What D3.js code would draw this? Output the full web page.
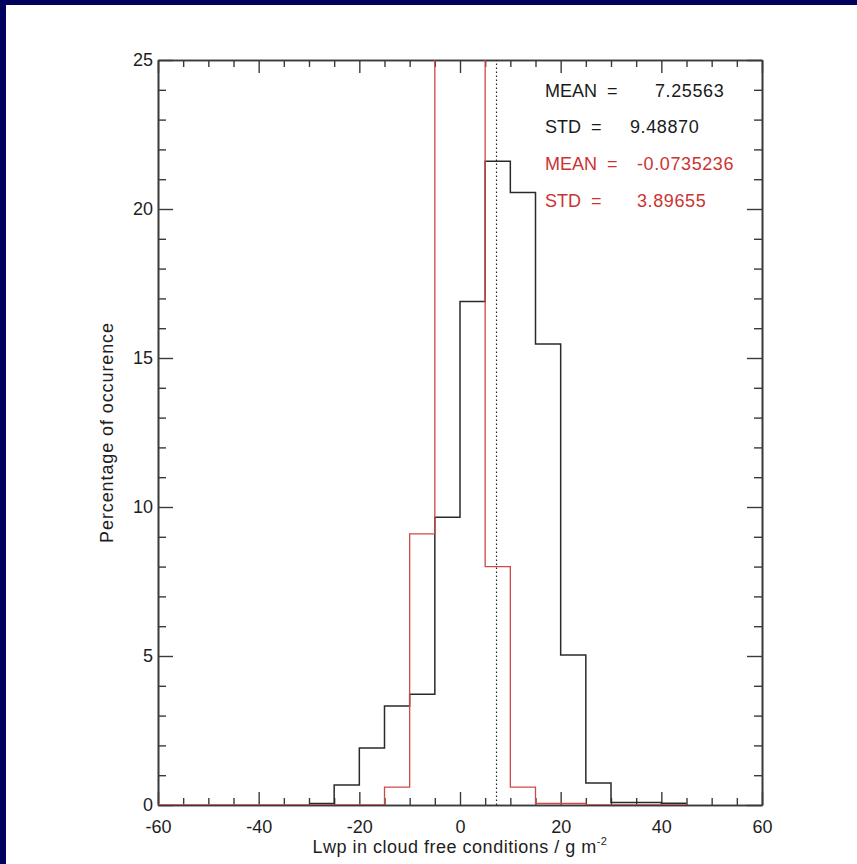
<!DOCTYPE html>
<html>
<head>
<meta charset="utf-8">
<script src="https://cdn.jsdelivr.net/npm/d3@7"></script>
<style>
  html, body { margin: 0; padding: 0; background: #ffffff; }
  svg { display: block; }
  text { font-family: "Liberation Sans", Arial, Helvetica, sans-serif; }
</style>
</head>
<body>
<svg id="chart" width="857" height="864"></svg>
<script>
// Histogram bins: left edges, 5 g/m^2 wide
const binStart = -60;
const binWidth = 5;
// Percentage of occurrence per bin (-60 ... 55)
const allSky = [0, 0, 0, 0, 0, 0, 0.05, 0.67, 1.91, 3.32, 3.72, 9.66,
                16.9, 21.6, 20.55, 15.47, 5.03, 0.74, 0.08, 0.08, 0.06, 0, 0, 0];
const clearSky = [0, 0, 0, 0, 0, 0, 0, 0, 0, 0.6, 9.1, 41.0,
                  40.6, 8.0, 0.6, 0.05, 0.05, 0, 0, 0, 0, 0, 0, 0];
// Summary statistics
const statLabels = ["MEAN =", "STD =", "MEAN =", "STD ="];
const statValues = ["7.25563", "9.48870", "-0.0735236", "3.89655"];
const meanAllSky = 7.25563;
// Axis ticks
const xMajor = [-60, -40, -20, 0, 20, 40, 60];
const yMajor = [0, 5, 10, 15, 20, 25];

const svg = d3.select("#chart");
const W = 857, H = 864;
const plotLeft = 158, plotRight = 762, plotTop = 60, plotBottom = 805;

// navy frame on the top and left edges
svg.append("rect").attr("x", 0).attr("y", 0).attr("width", W).attr("height", H).attr("fill", "#02025e");
svg.append("rect").attr("x", 6).attr("y", 5).attr("width", W - 6).attr("height", H - 5).attr("fill", "#ffffff");

const x = d3.scaleLinear().domain([-60, 60]).range([plotLeft, plotRight]);
const y = d3.scaleLinear().domain([0, 25]).range([plotBottom, plotTop]);

const axisColor = "#3a3a3a";
const xMinor = d3.range(-60, 60.001, 5).filter(v => !xMajor.includes(v));
const yMinor = d3.range(0, 25.001, 1).filter(v => !yMajor.includes(v));
const plainInt = d => String(d);   // ASCII hyphen for negatives

function styleAxis(g) {
  g.select(".domain").attr("stroke", axisColor).attr("stroke-width", 1.6);
  g.selectAll(".tick line").attr("stroke", axisColor).attr("stroke-width", 1.4);
  g.selectAll(".tick text").attr("fill", "#1e1e1e").style("font-size", "18px");
}

// bottom axis
svg.append("g").attr("transform", `translate(0,${plotBottom})`)
  .call(d3.axisBottom(x).tickValues(xMajor).tickSize(-13).tickPadding(15).tickSizeOuter(0).tickFormat(plainInt))
  .call(styleAxis).call(g => g.selectAll(".tick text").attr("dy", "0.71em"));
svg.append("g").attr("transform", `translate(0,${plotBottom})`)
  .call(d3.axisBottom(x).tickValues(xMinor).tickSize(-7).tickSizeOuter(0).tickFormat(""))
  .call(styleAxis);
// top axis
svg.append("g").attr("transform", `translate(0,${plotTop})`)
  .call(d3.axisTop(x).tickValues(xMajor).tickSize(-13).tickSizeOuter(0).tickFormat(""))
  .call(styleAxis);
svg.append("g").attr("transform", `translate(0,${plotTop})`)
  .call(d3.axisTop(x).tickValues(xMinor).tickSize(-7).tickSizeOuter(0).tickFormat(""))
  .call(styleAxis);
// left axis
svg.append("g").attr("transform", `translate(${plotLeft},0)`)
  .call(d3.axisLeft(y).tickValues(yMajor).tickSize(-15).tickPadding(5).tickSizeOuter(0).tickFormat(plainInt))
  .call(styleAxis);
svg.append("g").attr("transform", `translate(${plotLeft},0)`)
  .call(d3.axisLeft(y).tickValues(yMinor).tickSize(-8).tickSizeOuter(0).tickFormat(""))
  .call(styleAxis);
// right axis
svg.append("g").attr("transform", `translate(${plotRight},0)`)
  .call(d3.axisRight(y).tickValues(yMajor).tickSize(-15).tickSizeOuter(0).tickFormat(""))
  .call(styleAxis);
svg.append("g").attr("transform", `translate(${plotRight},0)`)
  .call(d3.axisRight(y).tickValues(yMinor).tickSize(-8).tickSizeOuter(0).tickFormat(""))
  .call(styleAxis);

// clip the histograms to the plotting window
svg.append("defs").append("clipPath").attr("id", "plotClip")
  .append("rect").attr("x", plotLeft).attr("y", plotTop)
  .attr("width", plotRight - plotLeft).attr("height", plotBottom - plotTop);

function stepPoints(values, firstBin, lastBin) {
  const pts = [];
  for (let i = firstBin; i <= lastBin; i++) {
    const x0 = binStart + i * binWidth;
    pts.push([x0, values[i]]);
    pts.push([x0 + binWidth, values[i]]);
  }
  return pts;
}
const stepLine = d3.line().x(d => x(d[0])).y(d => y(d[1]));

const plot = svg.append("g").attr("clip-path", "url(#plotClip)");

// all-sky retrievals (black)
plot.append("path")
  .attr("d", stepLine(stepPoints(allSky, 6, 20)))
  .attr("fill", "none").attr("stroke", "#2a2a2a").attr("stroke-width", 1.5);

// mean of the all-sky distribution
plot.append("line")
  .attr("x1", x(meanAllSky)).attr("x2", x(meanAllSky))
  .attr("y1", y(0)).attr("y2", y(25))
  .attr("stroke", "#222").attr("stroke-width", 1.2).attr("stroke-dasharray", "1.5,2.5");

// cloud-free retrievals (red)
plot.append("path")
  .attr("d", stepLine(stepPoints(clearSky, 0, 20)))
  .attr("fill", "none").attr("stroke", "#d04848").attr("stroke-width", 1.3);

// statistics block
const statColors = ["#1a1a1a", "#1a1a1a", "#cc3333", "#cc3333"];
const statValueX = [655, 630, 637, 637];
const statY = [97, 133, 170, 207];
statLabels.forEach((lab, i) => {
  svg.append("text").attr("x", 545).attr("y", statY[i])
    .attr("fill", statColors[i]).style("font-size", "18px")
    .style("white-space", "pre").text(lab.replace(" =", "  ="));
  svg.append("text").attr("x", statValueX[i]).attr("y", statY[i])
    .attr("fill", statColors[i]).style("font-size", "18px").style("letter-spacing", "0.6px")
    .text(statValues[i]);
});

// axis titles
const xt = svg.append("text").attr("x", (plotLeft + plotRight) / 2).attr("y", 853)
  .attr("text-anchor", "middle").attr("fill", "#1e1e1e")
  .style("font-size", "18px").style("letter-spacing", "0.5px");
xt.append("tspan").text("Lwp in cloud free conditions / g m");
xt.append("tspan").attr("dy", -8).style("font-size", "11px").text("-2");

svg.append("text")
  .attr("transform", `translate(113,${(plotTop + plotBottom) / 2}) rotate(-90)`)
  .attr("text-anchor", "middle").attr("fill", "#1e1e1e")
  .style("font-size", "18px").style("letter-spacing", "0.9px")
  .text("Percentage of occurence");
</script>
</body>
</html>
